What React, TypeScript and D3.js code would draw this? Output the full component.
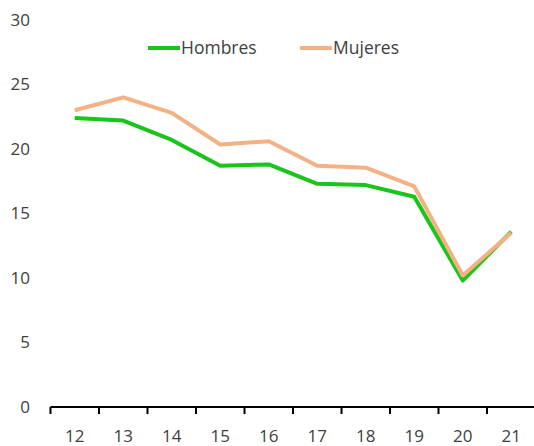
import * as d3 from 'd3';
import { useEffect, useRef } from 'react';

const WIDTH = 534;
const HEIGHT = 446;

const years = ['12', '13', '14', '15', '16', '17', '18', '19', '20', '21'];
const hombres = [22.4, 22.2, 20.7, 18.7, 18.8, 17.3, 17.2, 16.3, 9.8, 13.6];
const mujeres = [23.0, 24.0, 22.8, 20.35, 20.6, 18.7, 18.55, 17.1, 10.2, 13.5];
const yTicks = [0, 5, 10, 15, 20, 25, 30];

const series = [
  { name: 'Hombres', values: hombres, color: '#1ac41a' },
  { name: 'Mujeres', values: mujeres, color: '#f4b183' },
];

const FONT = '"Open Sans", sans-serif';
const TEXT_COLOR = '#404040';

export default function App() {
  const ref = useRef<SVGSVGElement>(null);

  useEffect(() => {
    const svg = d3.select(ref.current);
    svg.selectAll('*').remove();

    const x = d3.scaleBand<string>().domain(years).range([50.5, 535.5]);
    const y = d3.scaleLinear().domain([0, 30]).range([407, 20]);

    // y labels only, the value axis has no line
    svg
      .append('g')
      .selectAll('text')
      .data(yTicks)
      .join('text')
      .attr('x', 30)
      .attr('y', (d) => y(d))
      .attr('dy', '0.35em')
      .attr('text-anchor', 'end')
      .attr('fill', TEXT_COLOR)
      .style('font', `17px ${FONT}`)
      .text((d) => d);

    // category axis
    const xa = svg.append('g');
    xa.append('line')
      .attr('x1', 50.5)
      .attr('x2', WIDTH)
      .attr('y1', y(0))
      .attr('y2', y(0))
      .attr('stroke', '#000')
      .attr('stroke-width', 2);
    xa.selectAll('line.tick')
      .data(years)
      .join('line')
      .attr('class', 'tick')
      .attr('x1', (d) => x(d)!)
      .attr('x2', (d) => x(d)!)
      .attr('y1', y(0))
      .attr('y2', y(0) + 7)
      .attr('stroke', '#000')
      .attr('stroke-width', 2);
    xa.selectAll('text')
      .data(years)
      .join('text')
      .attr('x', (d) => x(d)! + x.bandwidth() / 2)
      .attr('y', 436)
      .attr('dy', '0.35em')
      .attr('text-anchor', 'middle')
      .attr('fill', TEXT_COLOR)
      .style('font', `17px ${FONT}`)
      .text((d) => d);

    const line = d3
      .line<number>()
      .x((_, i) => x(years[i])! + x.bandwidth() / 2)
      .y((d) => y(d));

    svg
      .append('g')
      .selectAll('path')
      .data(series)
      .join('path')
      .attr('d', (s) => line(s.values))
      .attr('fill', 'none')
      .attr('stroke', (s) => s.color)
      .attr('stroke-width', 4)
      .attr('stroke-linejoin', 'round');

    // legend
    const legendX = [148, 300];
    const lg = svg
      .append('g')
      .selectAll('g')
      .data(series)
      .join('g')
      .attr('transform', (_, i) => `translate(${legendX[i]},48)`);
    lg.append('line')
      .attr('x1', 0)
      .attr('x2', 32)
      .attr('stroke', (s) => s.color)
      .attr('stroke-width', 4);
    lg.append('text')
      .attr('x', 33)
      .attr('dy', '0.35em')
      .attr('fill', TEXT_COLOR)
      .style('font', `17.5px ${FONT}`)
      .text((s) => s.name);
  }, []);

  return (
    <svg
      ref={ref}
      width={WIDTH}
      height={HEIGHT}
      style={{ position: 'fixed', left: 0, top: 0, background: '#fff' }}
    />
  );
}
